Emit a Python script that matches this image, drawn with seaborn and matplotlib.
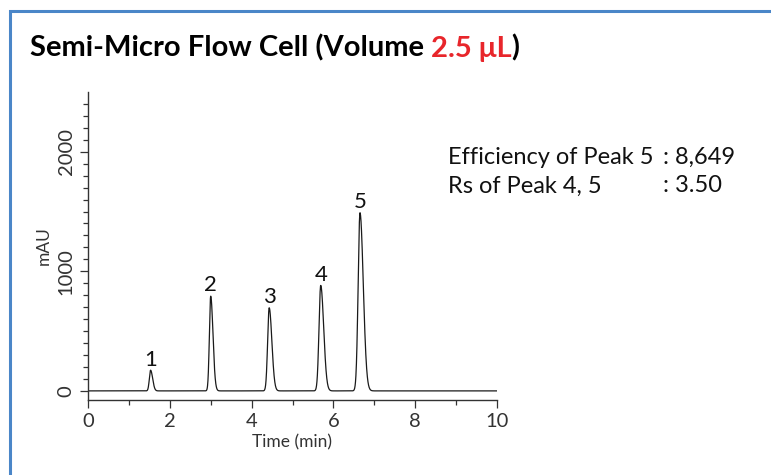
import numpy as np
import pandas as pd
import matplotlib
matplotlib.use("Agg")
import matplotlib.pyplot as plt
import seaborn as sns
from matplotlib.patches import Rectangle

# Peak table of the chromatogram
peak_ids = ["1", "2", "3", "4", "5"]
retention_min = [1.53, 3.00, 4.43, 5.69, 6.65]
height_mau = [173, 792, 695, 882, 1490]
sigma_front = [0.030, 0.032, 0.038, 0.042, 0.045]
sigma_tail = [0.050, 0.055, 0.065, 0.072, 0.080]

x_ticks = [0, 2, 4, 6, 8, 10]
y_ticks = [0, 1000, 2000]
info_labels = ["Efficiency of Peak 5", "Rs of Peak 4, 5"]
info_values = [": 8,649", ": 3.50"]

# Detector trace built from the peak table (asymmetric Gaussian peaks)
t = np.linspace(0, 10, 4001)
signal = np.zeros_like(t)
for rt, h, sf, st in zip(retention_min, height_mau, sigma_front, sigma_tail):
    s = np.where(t < rt, sf, st)
    signal += h * np.exp(-0.5 * ((t - rt) / s) ** 2)
trace = pd.DataFrame({"Time (min)": t, "mAU": signal})

sns.set_style("ticks")
plt.rcParams["font.family"] = ["Lato", "DejaVu Sans"]
plt.rcParams["axes.linewidth"] = 1.0

W, H = 771, 475
fig = plt.figure(figsize=(W / 100, H / 100), dpi=100)

# blue frame around the panel
fig.patches.append(Rectangle((10 / W, -0.05), 1.2, 1 - 11 / H + 0.05,
                             transform=fig.transFigure, fill=False,
                             edgecolor="#4a86c8", linewidth=2.2))

ax = fig.add_axes([88 / W, 1 - 399.5 / H, (497 - 88) / W, (399.5 - 91.7) / H])
sns.lineplot(data=trace, x="Time (min)", y="mAU", ax=ax,
             color="#1a1a1a", linewidth=0.9)

ax.set_xlim(0, 10)
ax.set_ylim(-72, 2502)
ax.set_xticks(x_ticks)
ax.set_yticks(y_ticks)
ax.set_xticks(np.arange(1, 10, 2), minor=True)
ax.set_yticks([v for v in range(100, 2500, 100) if v % 1000], minor=True)
ax.tick_params(axis="both", which="major", length=6, width=0.9,
               labelsize=14.5, colors="#333333", labelcolor="#333333")
ax.tick_params(axis="both", which="minor", length=3.5, width=0.9,
               colors="#333333")
for lbl in ax.get_yticklabels():
    lbl.set_rotation(90)
    lbl.set_va("center")
ax.set_xlabel("Time (min)", fontsize=12.5, color="#333333", labelpad=3)
ax.set_ylabel("mAU", fontsize=12.5, color="#333333", labelpad=4)
for side in ("top", "right"):
    ax.spines[side].set_visible(False)
for side in ("left", "bottom"):
    ax.spines[side].set_color("#333333")

# peak numbers
for pid, rt, h in zip(peak_ids, retention_min, height_mau):
    ax.annotate(pid, xy=(rt, h), xytext=(0, 0.5), textcoords="offset points",
                ha="center", va="bottom", fontsize=16, color="#111111")

# title with highlighted volume, pieces chained one after another
title_size = 21
t1 = fig.text(30 / W, 1 - 48 / H, "Semi-Micro Flow Cell (Volume ",
              fontsize=title_size, fontweight="bold", va="center", ha="left",
              color="#000000")
t2 = fig.text(0, 0, "2.5 \u03bcL", fontsize=title_size, fontweight="bold",
              color="#e8262b", va="bottom", ha="left")
t2.remove()
t2 = plt.annotate("2.5 \u03bcL", xy=(1, 0), xycoords=t1, va="bottom",
                  ha="left", fontsize=title_size, fontweight="bold",
                  color="#e8262b", annotation_clip=False)
plt.annotate(")", xy=(1, 0), xycoords=t2, va="bottom", ha="left",
             fontsize=title_size, fontweight="bold", color="#000000",
             annotation_clip=False)

# column statistics
for i, (lab, val) in enumerate(zip(info_labels, info_values)):
    y = 1 - (157 + 29 * i) / H
    fig.text(448 / W, y, lab, fontsize=17, va="center", ha="left",
             color="#111111")
    fig.text(663 / W, y, val, fontsize=17, va="center", ha="left",
             color="#111111")

fig.savefig("out.png", dpi=100)
